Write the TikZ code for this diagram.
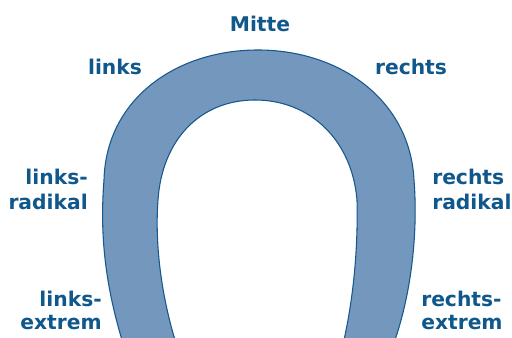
\documentclass[tikz,border=0pt]{standalone}
\usepackage{fontspec}
\setmainfont{DejaVu Sans}
\definecolor{shoefill}{RGB}{116,151,189}
\definecolor{shoeline}{RGB}{22,88,140}
\definecolor{labelblue}{RGB}{16,88,140}
\begin{document}
\begin{tikzpicture}[x=0.75pt,y=-0.75pt,
  lbl/.style={inner sep=0pt,text=labelblue,font=\fontsize{15.2pt}{18pt}\selectfont\bfseries}]
\useasboundingbox (0,0) rectangle (512,338);
\fill[white] (0,0) rectangle (512,338);
\begin{scope}
\clip (0,0) rectangle (512,338);
\path[fill=shoefill,draw=shoeline,line width=0.8pt,even odd rule]
  (122,340) .. controls (104,280) and (100,230) .. (104,180)
  .. controls (106,100) and (175,50) .. (258,50)
  .. controls (340,50) and (410,100) .. (414,180)
  .. controls (418,230) and (412,290) .. (395,340)
  -- (344,340)
  .. controls (355,290) and (358,240) .. (357,200)
  .. controls (352,140) and (310,100) .. (255,100)
  .. controls (200,100) and (162,140) .. (158,200)
  .. controls (155,240) and (160,290) .. (175,340)
  -- cycle;
\end{scope}
\node[lbl,anchor=base] (mitte) at (260,32) {Mitte};
\node[lbl,anchor=base] (links) at (115,75) {links};
\node[lbl,anchor=base] (rechts) at (411,75) {rechts};
\node[lbl,anchor=base east] (lr1) at (88,185) {links-};
\node[lbl,anchor=base east] (lr2) at (88,210) {radikal};
\node[lbl,anchor=base east] (le1) at (102,307) {links-};
\node[lbl,anchor=base east] (le2) at (102,330) {extrem};
\node[lbl,anchor=base west] (rr1) at (432,185) {rechts};
\node[lbl,anchor=base west] (rr2) at (432,210) {radikal};
\node[lbl,anchor=base west] (re1) at (421,307) {rechts-};
\node[lbl,anchor=base west] (re2) at (421,330) {extrem};
\end{tikzpicture}
\end{document}
